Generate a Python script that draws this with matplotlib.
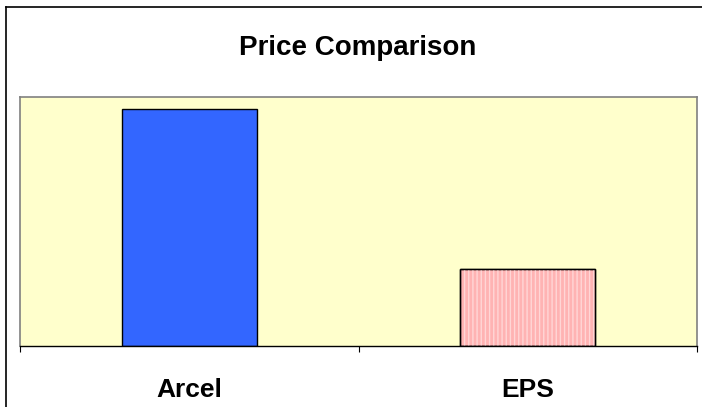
import matplotlib.pyplot as plt
from matplotlib.lines import Line2D
from matplotlib.transforms import blended_transform_factory

# data
products = ['Arcel', 'EPS']
prices = [100, 32.5]
bar_colors = ['#3366FF', '#FFB3B3']

plt.rcParams['font.family'] = ['Liberation Sans', 'DejaVu Sans']

fig = plt.figure(figsize=(7.02, 4.07), dpi=100)
fig.patch.set_facecolor('white')

# outer chart frame (left and top edges only)
fig.add_artist(Line2D([5.5 / 702, 5.5 / 702], [0, 1 - 7 / 407],
                      transform=fig.transFigure, color='black', lw=1.2))
fig.add_artist(Line2D([5.5 / 702, 1], [1 - 7 / 407, 1 - 7 / 407],
                      transform=fig.transFigure, color='black', lw=1.2))

ax = fig.add_axes([20 / 702, 1 - 346 / 407, 677 / 702, 249 / 407])
ax.set_facecolor('#FFFFCC')

x = list(range(len(products)))
ax.bar(x, prices, width=0.4, color=bar_colors, edgecolor='black',
       linewidth=1.0, zorder=2)

# dotted texture on the EPS bar
ax.bar(x[1], prices[1], width=0.4, color='none', edgecolor='#FFD6D6',
       hatch='||||', linewidth=0, zorder=3)
ax.bar(x[1], prices[1], width=0.4, color='none', edgecolor='black',
       linewidth=1.0, zorder=4)

ax.set_xlim(-0.5, 1.5)
ax.set_ylim(0, 105)

for side in ['top', 'right', 'left']:
    ax.spines[side].set_color('#808080')
    ax.spines[side].set_linewidth(1.2)
ax.spines['bottom'].set_color('black')
ax.spines['bottom'].set_linewidth(1.0)
ax.spines['bottom'].set_zorder(5)

ax.set_yticks([])
ax.set_xticks([-0.5, 0.5, 1.5])
ax.set_xticklabels([])
ax.tick_params(axis='x', which='major', direction='out', length=4.5,
               width=0.8, color='black')

# category names under the axis
trans = blended_transform_factory(ax.transData, fig.transFigure)
for xi, name in zip(x, products):
    ax.text(xi, 1 - 397 / 407, name, transform=trans, ha='center',
            va='baseline', fontsize=19, fontweight='bold')

fig.text(358 / 702, 1 - 55 / 407, 'Price Comparison', ha='center',
         va='baseline', fontsize=20, fontweight='bold')

fig.savefig('out.png', dpi=100)
